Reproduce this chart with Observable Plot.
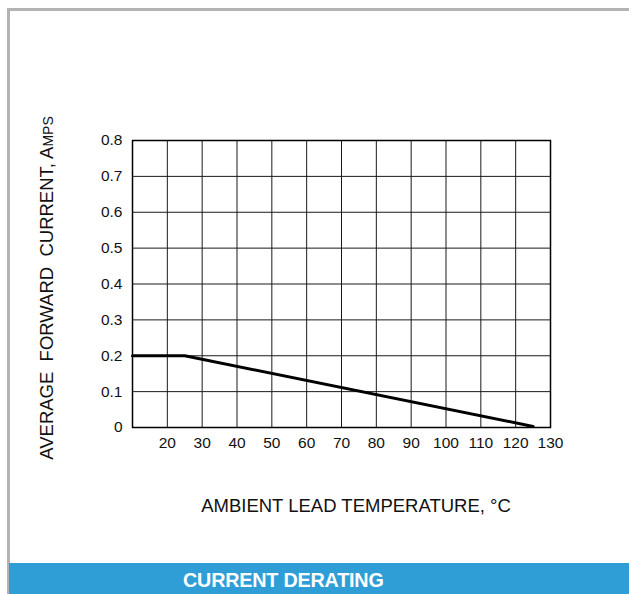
<!DOCTYPE html>
<html>
<head>
<meta charset="utf-8">
<script src="https://cdn.jsdelivr.net/npm/d3@7"></script>
<script src="https://cdn.jsdelivr.net/npm/@observablehq/plot@0.6"></script>
<style>
  html, body { margin: 0; padding: 0; background: #fff; }
  #wrap { position: relative; width: 629px; height: 594px; overflow: hidden; background: #fff; }
  #wrap svg { position: absolute; left: 0; top: 0; }
  .bl { position: absolute; background: #b3b3b3; }
  #banner { position: absolute; left: 9px; top: 563px; width: 620px; height: 31px; background: #2f9ed7; }
  #banner span { position: absolute; left: 174px; top: 5px; color: #fff; font-family: "Liberation Sans", Arial, sans-serif; font-weight: bold; font-size: 21px; letter-spacing: -0.2px; display: inline-block; transform: scaleX(0.94); transform-origin: left center; white-space: nowrap; }
</style>
</head>
<body>
<div id="wrap">
  <div class="bl" style="left:7px; top:8px; width:3px; height:586px;"></div>
  <div class="bl" style="left:7px; top:8px; width:622px; height:3px;"></div>
  <div id="banner"><span>CURRENT DERATING</span></div>
</div>
<script>
// Data
const temperature = [10, 25, 125];      // °C
const current = [0.2, 0.2, 0.003];      // Amps
const xTicks = [20, 30, 40, 50, 60, 70, 80, 90, 100, 110, 120, 130];
const xGrid = [10, 20, 30, 40, 50, 60, 70, 80, 90, 100, 110, 120, 130];
const yTicks = [0, 0.1, 0.2, 0.3, 0.4, 0.5, 0.6, 0.7, 0.8];

const data = temperature.map((t, i) => ({t, a: current[i]}));

const chart = Plot.plot({
  width: 629,
  height: 594,
  marginLeft: 132,
  marginRight: 79,
  marginTop: 140,
  marginBottom: 167,
  style: {fontFamily: "'Liberation Sans', Arial, sans-serif", fontSize: "15.5px", color: "#111", background: "transparent", overflow: "visible"},
  x: {domain: [10, 130]},
  y: {domain: [0, 0.8]},
  marks: [
    Plot.ruleX(xGrid, {stroke: "#1a1a1a", strokeWidth: 1}),
    Plot.ruleY(yTicks, {stroke: "#1a1a1a", strokeWidth: 1}),
    Plot.frame({stroke: "#000", strokeWidth: 1.5}),
    Plot.axisX(xTicks, {tickSize: 0, tickPadding: 9, label: null, fontSize: 15.5}),
    Plot.axisY(yTicks, {tickSize: 0, tickPadding: 10, label: null, fontSize: 15.5, tickFormat: d => d === 0 ? "0" : d.toFixed(1)}),
    Plot.line(data, {x: "t", y: "a", stroke: "#000", strokeWidth: 3})
  ]
});

document.getElementById("wrap").insertBefore(chart, document.getElementById("wrap").firstChild);

const svg = d3.select(chart);
const yt = svg.append("text")
  .attr("transform", "translate(53,288) rotate(-90)")
  .attr("text-anchor", "middle")
  .attr("fill", "#111")
  .style("font-family", "'Liberation Sans', Arial, sans-serif")
  .style("font-size", "18.5px");
yt.append("tspan").text("AVERAGE\u00A0\u00A0FORWARD\u00A0\u00A0CURRENT, A");
yt.append("tspan").attr("font-size", "14px").text("MPS");

svg.append("text")
  .attr("x", 356)
  .attr("y", 512)
  .attr("text-anchor", "middle")
  .attr("fill", "#111")
  .style("font-family", "'Liberation Sans', Arial, sans-serif")
  .style("font-size", "18.5px")
  .text("AMBIENT LEAD TEMPERATURE, \u00B0C");
</script>
</body>
</html>
